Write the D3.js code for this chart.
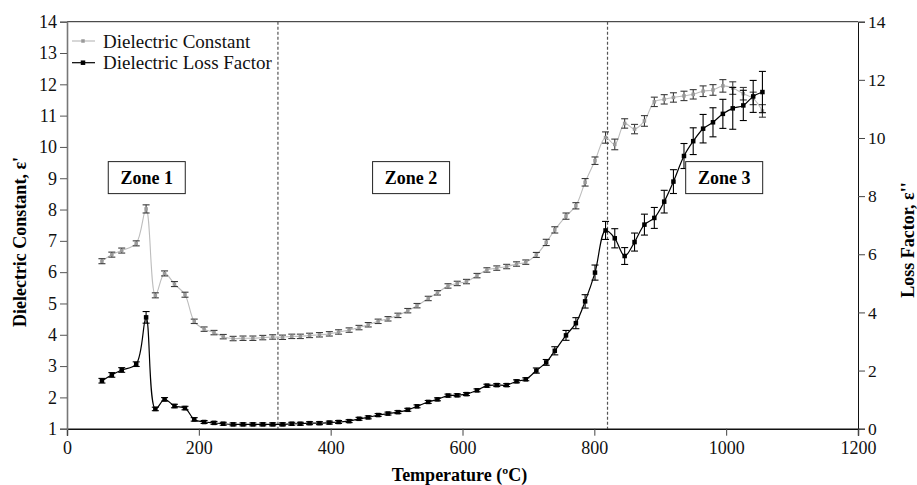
<!DOCTYPE html>
<html>
<head>
<meta charset="utf-8">
<script src="https://cdn.jsdelivr.net/npm/d3@7"></script>
<style>
  body { margin: 0; background: #fff; }
  svg text { font-family: "Liberation Serif", "Times New Roman", serif; }
</style>
</head>
<body>
<div id="chart"></div>
<script>
// temperatures (ºC)
var temps = [53,68,83,105,120,134,148,163,179,193,208,223,237,252,267,282,297,312,327,341,
  354,368,383,398,412,428,443,457,472,487,502,517,531,548,562,578,592,606,622,637,
  652,667,682,696,712,727,740,757,772,786,801,817,831,846,861,876,891,906,920,936,
  950,965,980,995,1010,1026,1041,1055]

// dielectric constant e' (left axis)
var epsPrime = [6.35,6.56,6.69,6.92,8.02,5.26,5.96,5.62,5.28,4.43,4.18,4.07,3.94,3.88,3.89,
  3.89,3.91,3.93,3.92,3.95,3.95,3.98,4.00,4.03,4.09,4.15,4.23,4.32,4.43,4.51,
  4.62,4.77,4.93,5.16,5.34,5.56,5.64,5.70,5.89,6.07,6.13,6.18,6.26,6.32,6.55,
  6.95,7.35,7.79,8.12,8.87,9.56,10.30,10.08,10.75,10.57,10.83,11.44,11.52,11.58,11.63,
  11.68,11.78,11.82,11.95,11.88,11.70,11.55,11.15]
var epsPrimeErr = [0.08,0.08,0.08,0.08,0.13,0.08,0.08,0.08,0.08,0.07,
  0.07,0.07,0.07,0.07,0.07,0.07,0.07,0.07,0.07,0.07,0.07,0.07,0.07,0.07,0.07,0.07,0.07,
  0.07,0.07,0.07,0.07,0.07,0.07,0.07,0.07,0.07,0.07,0.07,0.07,0.07,0.07,0.07,0.07,0.07,
  0.08,0.10,0.10,0.10,0.10,0.12,0.12,0.18,0.17,0.15,0.15,0.17,0.15,
  0.15,0.15,0.15,0.15,0.17,0.17,0.20,0.20,0.20,0.20,0.20]

// dielectric loss factor e'' (right axis)
var lossFactor = [1.65,1.85,2.02,2.22,3.83,0.68,1.01,0.78,0.71,0.32,0.23,0.20,0.17,0.15,0.15,
  0.15,0.15,0.15,0.15,0.17,0.17,0.19,0.19,0.21,0.23,0.26,0.34,0.39,0.47,0.52,
  0.57,0.65,0.77,0.92,1.01,1.14,1.15,1.19,1.32,1.48,1.50,1.50,1.63,1.70,2.00,
  2.28,2.68,3.21,3.63,4.38,5.37,6.82,6.55,5.94,6.42,7.02,7.25,7.81,8.50,9.38,
  9.89,10.32,10.54,10.83,11.02,11.12,11.43,11.58]
var lossFactorErr = [0.08,0.08,0.08,0.08,0.20,0.06,0.06,0.06,0.06,0.06,
  0.05,0.05,0.05,0.05,0.05,0.05,0.05,0.05,0.05,0.05,0.05,0.05,0.05,0.05,0.05,0.05,0.05,
  0.05,0.05,0.05,0.05,0.05,0.05,0.05,0.05,0.05,0.05,0.05,0.05,0.05,0.05,0.05,0.05,0.05,
  0.09,0.10,0.14,0.17,0.19,0.23,0.26,0.31,0.33,0.29,0.31,0.36,0.36,0.39,0.41,0.43,
  0.46,0.49,0.50,0.50,0.72,0.52,0.55,0.71]

var xTicks = [0,200,400,600,800,1000,1200]
var leftTicks = [1,2,3,4,5,6,7,8,9,10,11,12,13,14]
var rightTicks = [0,2,4,6,8,10,12,14]
var zoneBounds = [320, 820]
var zones = [{label: "Zone 1", t: 121}, {label: "Zone 2", t: 522}, {label: "Zone 3", t: 997}]

var width = 917
    height = 485
var serif = "'Liberation Serif', 'Times New Roman', serif"

var svg = d3.select("#chart")
    .append("svg")
        .attr("width", width)
        .attr("height", height)

var x = d3.scaleLinear().domain([0, 1200]).range([67, 858])
var yL = d3.scaleLinear().domain([1, 14]).range([428.7, 21.7])
var yR = d3.scaleLinear().domain([0, 14]).range([428.7, 21.7])

// top border
svg.append("line")
    .attr("x1", x(0)).attr("x2", x(1200))
    .attr("y1", yL(14)).attr("y2", yL(14))
    .attr("stroke", "#222").attr("stroke-width", 1)

// zone separators
svg.selectAll(".sep")
    .data(zoneBounds)
    .enter().append("line")
        .attr("x1", function(d) { return x(d) }).attr("x2", function(d) { return x(d) })
        .attr("y1", yL(14)).attr("y2", yL(1))
        .attr("stroke", "#555")
        .attr("stroke-width", 1.2)
        .attr("stroke-dasharray", "3,2")

// axes
var gx = svg.append("g")
    .attr("transform", "translate(0," + yL(1) + ")")
    .call(d3.axisBottom(x).tickValues(xTicks).tickFormat(d3.format("d")).tickSize(7).tickPadding(6))
var gl = svg.append("g")
    .attr("transform", "translate(" + x(0) + ",0)")
    .call(d3.axisLeft(yL).tickValues(leftTicks).tickSize(7).tickPadding(3))
var gr = svg.append("g")
    .attr("transform", "translate(" + x(1200) + ",0)")
    .call(d3.axisRight(yR).tickValues(rightTicks).tickSize(7).tickPadding(3))

;[gx, gl, gr].forEach(function(g) {
    g.attr("font-family", serif).attr("font-size", 18)
    g.selectAll("text").attr("fill", "#111")
})
// keep the right "0" clear of the "1200" below it
gr.attr("font-size", 17.5)
gx.select(".domain").attr("stroke", "#111").attr("stroke-width", 1.4)
gx.selectAll(".tick line").attr("stroke", "#444")
gl.select(".domain").attr("stroke", "#777").attr("stroke-width", 1.6)
gl.selectAll(".tick line").attr("stroke", "#555")
gr.select(".domain").attr("stroke", "#111").attr("stroke-width", 1)
gr.selectAll(".tick line").attr("stroke", "#444")

// axis titles
svg.append("text")
    .attr("x", x(600) - 3).attr("y", 481)
    .attr("text-anchor", "middle")
    .style("font-size", "18px").style("font-weight", "bold")
    .text("Temperature (ºC)")
svg.append("text")
    .attr("transform", "translate(26,242) rotate(-90)")
    .attr("text-anchor", "middle")
    .style("font-size", "18px").style("font-weight", "bold")
    .text("Dielectric Constant,  ε'")
svg.append("text")
    .attr("transform", "translate(914,240) rotate(-90)")
    .attr("text-anchor", "middle")
    .style("font-size", "18px").style("font-weight", "bold")
    .text("Loss Factor, ε''")

// data rows
var rows = temps.map(function(t, i) {
    return {t: t, e1: epsPrime[i], e1err: epsPrimeErr[i], e2: lossFactor[i], e2err: lossFactorErr[i]}
})

function drawSeries(key, errKey, yScale, lineColor, lineWidth, markColor, barColor, markSize) {
    var line = d3.line()
        .x(function(d) { return x(d.t) })
        .y(function(d) { return yScale(d[key]) })
        .curve(d3.curveCatmullRom.alpha(0.5))
    svg.append("path")
        .datum(rows)
        .attr("d", line)
        .attr("fill", "none")
        .attr("stroke", lineColor)
        .attr("stroke-width", lineWidth)

    var bars = svg.append("g").selectAll("g")
        .data(rows)
        .enter().append("g")
    // vertical bar
    bars.append("line")
        .attr("x1", function(d) { return x(d.t) }).attr("x2", function(d) { return x(d.t) })
        .attr("y1", function(d) { return yScale(d[key] + d[errKey]) })
        .attr("y2", function(d) { return yScale(d[key] - d[errKey]) })
        .attr("stroke", barColor).attr("stroke-width", 1.1)
    // caps
    ;[1, -1].forEach(function(s) {
        bars.append("line")
            .attr("x1", function(d) { return x(d.t) - 3.5 }).attr("x2", function(d) { return x(d.t) + 3.5 })
            .attr("y1", function(d) { return yScale(d[key] + s * d[errKey]) })
            .attr("y2", function(d) { return yScale(d[key] + s * d[errKey]) })
            .attr("stroke", barColor).attr("stroke-width", 1.1)
    })
    bars.append("rect")
        .attr("x", function(d) { return x(d.t) - markSize / 2 })
        .attr("y", function(d) { return yScale(d[key]) - markSize / 2 })
        .attr("width", markSize).attr("height", markSize)
        .attr("fill", markColor)
}

drawSeries("e1", "e1err", yL, "#bdbdbd", 1.1, "#9a9a9a", "#3a3a3a", 3.5)
drawSeries("e2", "e2err", yR, "#000", 1.2, "#000", "#000", 4.5)

// zone labels
var zg = svg.selectAll(".zone")
    .data(zones)
    .enter().append("g")
        .attr("transform", function(d) { return "translate(" + x(d.t) + "," + yL(9.02) + ")" })
zg.append("rect")
    .attr("x", -38.5).attr("y", -16)
    .attr("width", 77).attr("height", 32)
    .attr("fill", "#fff").attr("stroke", "#222").attr("stroke-width", 1)
zg.append("text")
    .attr("text-anchor", "middle").attr("dy", "0.35em")
    .style("font-size", "18px").style("font-weight", "bold")
    .text(function(d) { return d.label })

// legend
var legend = [
    {label: "Dielectric Constant", line: "#bdbdbd", mark: "#9a9a9a", size: 3.5},
    {label: "Dielectric Loss Factor", line: "#000", mark: "#000", size: 4.5}
]
var lg = svg.selectAll(".leg")
    .data(legend)
    .enter().append("g")
        .attr("transform", function(d, i) { return "translate(72," + (41 + i * 21.7) + ")" })
lg.append("line")
    .attr("x1", 0).attr("x2", 23)
    .attr("stroke", function(d) { return d.line }).attr("stroke-width", 1.2)
lg.append("rect")
    .attr("x", function(d) { return 11 - d.size / 2 }).attr("y", function(d) { return -d.size / 2 })
    .attr("width", function(d) { return d.size }).attr("height", function(d) { return d.size })
    .attr("fill", function(d) { return d.mark })
lg.append("text")
    .attr("x", 31).attr("dy", "0.35em")
    .style("font-size", "19px")
    .attr("fill", "#111")
    .text(function(d) { return d.label })
</script>
</body>
</html>
